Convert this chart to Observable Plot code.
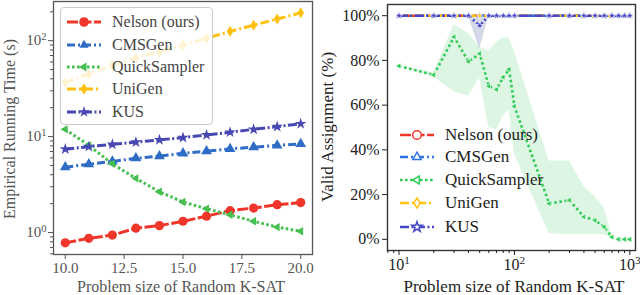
<!DOCTYPE html>
<html><head><meta charset="utf-8">
<script src="https://cdn.jsdelivr.net/npm/d3@7"></script>
<script src="https://cdn.jsdelivr.net/npm/@observablehq/plot@0.6"></script>
<style>
body{margin:0;background:#fff;}
#wrap{position:relative;width:640px;height:295px;overflow:hidden;background:#fff;}
.panel{position:absolute;top:0;}
.lbl{position:absolute;white-space:nowrap;font-family:"Liberation Serif",serif;}
.row{position:absolute;display:flex;align-items:center;height:22px;white-space:nowrap;font-family:"Liberation Serif",serif;}
.row svg{flex:none;}
</style></head><body><div id="wrap"></div>
<script>
// ---------- data ----------
const methodNames = ["Nelson (ours)", "CMSGen", "QuickSampler", "UniGen", "KUS"];

// left: running time (s) vs problem size
const sizesLeft = [10, 11, 12, 13, 14, 15, 16, 17, 18, 19, 20];
const timeNelson = [0.78, 0.87, 0.94, 1.11, 1.18, 1.31, 1.48, 1.69, 1.80, 1.95, 2.05];
const timeCMSGen = [4.8, 5.15, 5.5, 5.95, 6.25, 6.7, 7.05, 7.45, 7.75, 8.1, 8.4];
const timeQuickSampler = [11.9, 8.1, 5.2, 3.67, 2.66, 2.08, 1.77, 1.53, 1.31, 1.14, 1.03];
const timeUniGen = [36.7, 45, 55, 66, 77, 90, 106, 125, 145, 168, 195];
const timeKUS = [7.4, 7.85, 8.3, 8.75, 9.25, 9.75, 10.4, 11.1, 11.9, 12.7, 13.6];
const leftXTicks = [10, 12.5, 15, 17.5, 20];
const leftYTicks = [1, 10, 100];
const leftYMinor = [0.6, 0.7, 0.8, 0.9, 2, 3, 4, 5, 6, 7, 8, 9, 20, 30, 40, 50, 60, 70, 80, 90, 200];

// right: valid assignment (%) vs problem size
const sizesRight = [10, 20, 30, 40, 50, 60, 70, 80, 90, 100, 200, 300, 400, 500, 600, 700, 800, 900, 1000];
const validNelson = [100, 100, 100, 100, 100, 100, 100, 100, 100, 100, 100, 100, 100, 100, 100, 100, 100, 100, 100];
const validCMSGen = [100, 100, 100, 100, 100, 100, 100, 100, 100, 100, 100, 100, 100, 100, 100, 100, 100, 100, 100];
const validQuickSampler = [77.5, 73.5, 90.5, 79.5, 83, 68.5, 67, 72.5, 76, 59.5, 16, 17.5, 10, 8.5, 5.5, 1, 0, 0, 0];
const validQuickSamplerLow = [77.5, 72.5, 66, 64, 72, 50, 49, 55, 58, 38, 2.5, 2, 2, 2, 2, 0.5, 0, 0, 0];
const validQuickSamplerHigh = [77.5, 74.5, 96, 92, 86, 84, 88, 90, 90, 84, 35, 35, 23.5, 19, 14, 1.5, 0, 0, 0];
const validUniGen = [100, 100, 100, 100, 100, 100, 100, 100, 100, 100, 100, 100, 100, 100, 100, 100, 100, 100, 100];
const validKUS = [100, 100, 100, 100, 95.5, 100, 100, 100, 100, 100, 100, 100, 100, 100, 100, 100, 100, 100, 100];
const validKUSLow = [100, 100, 100, 100, 85, 100, 100, 100, 100, 100, 100, 100, 100, 100, 100, 100, 100, 100, 100];
const validKUSHigh = [100, 100, 100, 100, 100, 100, 100, 100, 100, 100, 100, 100, 100, 100, 100, 100, 100, 100, 100];
const rightXTicks = [10, 100, 1000];
const rightXMinor = [8, 9, 20, 30, 40, 50, 60, 70, 80, 90, 200, 300, 400, 500, 600, 700, 800, 900];
const rightYTicks = [0, 20, 40, 60, 80, 100];

// ---------- styles ----------
const triLeft = {draw(ctx, size) { const r = Math.sqrt(size / Math.PI) * 1.15;
  ctx.moveTo(-r, 0); ctx.lineTo(r * 0.5, -r * 0.866); ctx.lineTo(r * 0.5, r * 0.866); ctx.closePath(); }};
const thinDiamond = {draw(ctx, size) { const r = Math.sqrt(size / Math.PI) * 1.2;
  ctx.moveTo(0, -r); ctx.lineTo(r * 0.6, 0); ctx.lineTo(0, r); ctx.lineTo(-r * 0.6, 0); ctx.closePath(); }};
const styleOf = {
  "Nelson (ours)": {color: "#f0352a", dash: "11,2.5", symbol: "circle", legendSym: d3.symbolCircle, r: 4.6, lr: 4.8},
  "CMSGen": {color: "#2f6cc6", dash: "8,3,2,3", symbol: "triangle", legendSym: d3.symbolTriangle2 || d3.symbolTriangle, r: 4.0, lr: 4.4},
  "QuickSampler": {color: "#45bf50", dash: "2.6,2.4", symbol: triLeft, legendSym: triLeft, r: 4.2, lr: 4.4},
  "UniGen": {color: "#ffc010", dash: "9,3,2,3", symbol: thinDiamond, legendSym: thinDiamond, r: 4.6, lr: 4.8},
  "KUS": {color: "#4848b2", dash: "9,2.5,2,2.5", symbol: "star", legendSym: d3.symbolStar, r: 3.6, lr: 3.6}
};
const rightColor = {"Nelson (ours)": "#f0352a", "CMSGen": "#2f72e0", "QuickSampler": "#34cc58", "UniGen": "#ffc010", "KUS": "#4747c8"};

const leftSeries = [timeNelson, timeCMSGen, timeQuickSampler, timeUniGen, timeKUS];
const rightSeries = [validNelson, validCMSGen, validQuickSampler, validUniGen, validKUS];

function rows(xs, ys) { return xs.map((x, i) => ({x, y: ys[i]})); }
function supFmt(d) { return "10^" + Math.round(Math.log10(d)); }
function supify(svg) {
  d3.select(svg).selectAll("text").each(function () {
    const m = /^10\^(-?\d+)$/.exec(this.textContent);
    if (m) { const s = d3.select(this); s.text("10"); s.append("tspan").attr("dy", "-0.5em").attr("font-size", "0.7em").text(m[1]); }
  });
}

const wrap = document.getElementById("wrap");

// ---------- left panel ----------
const leftMarks = [];
methodNames.forEach((name, i) => {
  const st = styleOf[name];
  const data = rows(sizesLeft, leftSeries[i]);
  leftMarks.push(Plot.line(data, {x: "x", y: "y", stroke: st.color, strokeWidth: 3, strokeDasharray: st.dash, strokeLinecap: "butt"}));
  leftMarks.push(Plot.dot(data, {x: "x", y: "y", fill: st.color, r: st.r, symbol: st.symbol}));
});
const left = Plot.plot({
  width: 320, height: 295,
  marginLeft: 53, marginRight: 8, marginTop: 1, marginBottom: 41,
  style: {fontFamily: "'Liberation Serif', serif", fontSize: "15px", color: "#555", background: "transparent", overflow: "visible"},
  x: {domain: [9.5, 20.5]},
  y: {type: "log", domain: [0.59, 256]},
  marks: [
    ...leftMarks,
    Plot.frame({stroke: "#555", strokeWidth: 1.3}),
    Plot.axisX({ticks: leftXTicks, tickFormat: d => d.toFixed(1), tickSize: 5, tickPadding: 3, label: null}),
    Plot.axisY({ticks: leftYTicks, tickFormat: supFmt, tickSize: 5, tickPadding: 2, label: null}),
    Plot.axisY({ticks: leftYMinor, tickFormat: () => "", tickSize: 3, label: null})
  ]
});
supify(left);
left.classList.add("panel"); left.style.left = "0px";
wrap.appendChild(left);

// ---------- right panel ----------
const rightMarks = [
  Plot.areaY(sizesRight.map((x, i) => ({x, lo: validQuickSamplerLow[i], hi: validQuickSamplerHigh[i]})),
    {x: "x", y1: "lo", y2: "hi", fill: rightColor["QuickSampler"], fillOpacity: 0.17}),
  Plot.areaY(sizesRight.map((x, i) => ({x, lo: validKUSLow[i], hi: validKUSHigh[i]})),
    {x: "x", y1: "lo", y2: "hi", fill: "#6c7bb0", fillOpacity: 0.3})
];
methodNames.forEach((name, i) => {
  const st = styleOf[name];
  const data = rows(sizesRight, rightSeries[i]);
  rightMarks.push(Plot.line(data, {x: "x", y: "y", stroke: rightColor[name], strokeWidth: 2.6, strokeLinecap: "butt",
    strokeDasharray: name === "QuickSampler" ? "2.6,2.6" : st.dash}));
  rightMarks.push(Plot.dot(data, {x: "x", y: "y", fill: rightColor[name], stroke: "white", strokeWidth: 0.7,
    r: name === "QuickSampler" ? 3.1 : 2.5, symbol: st.symbol}));
});
const right = Plot.plot({
  width: 320, height: 295,
  marginLeft: 67, marginRight: 5, marginTop: 4, marginBottom: 45,
  style: {fontFamily: "'Liberation Serif', serif", fontSize: "16px", color: "#222", background: "transparent", overflow: "visible"},
  x: {type: "log", domain: [7.95, 1120]},
  y: {domain: [-5, 105]},
  marks: [
    ...rightMarks,
    Plot.frame({stroke: "#333", strokeWidth: 1.4}),
    Plot.axisX({ticks: rightXTicks, tickFormat: supFmt, tickSize: 5, tickPadding: 3, label: null}),
    Plot.axisX({ticks: rightXMinor, tickFormat: () => "", tickSize: 3, label: null}),
    Plot.axisY({ticks: rightYTicks, tickFormat: d => d + "%", tickSize: 5, tickPadding: 3, label: null})
  ]
});
supify(right);
right.classList.add("panel"); right.style.left = "320px";
wrap.appendChild(right);

// ---------- axis titles ----------
function label(text, x, y, size, color, rotate) {
  const d = document.createElement("div");
  d.className = "lbl"; d.textContent = text;
  d.style.fontSize = size + "px"; d.style.color = color;
  d.style.left = x + "px"; d.style.top = y + "px";
  d.style.transform = "translate(-50%,-50%)" + (rotate ? " rotate(-90deg)" : "");
  wrap.appendChild(d);
}
label("Problem size of Random K-SAT", 181, 287, 16, "#555", false);
label("Empirical Running Time (s)", 10, 129, 16, "#555", true);
label("Problem size of Random K-SAT", 514, 287, 17, "#222", false);
label("Valid Assignment (%)", 328, 127, 17, "#222", true);

// ---------- legends ----------
function handle(name, color, hollow, width) {
  const st = styleOf[name];
  const svg = d3.create("svg").attr("width", 36).attr("height", 16);
  svg.append("line").attr("x1", 1).attr("x2", 35).attr("y1", 8).attr("y2", 8)
    .attr("stroke", color).attr("stroke-width", width).attr("stroke-dasharray", st.dash);
  const k = hollow ? 0.8 : 1.0;
  const sym = d3.symbol().type(st.legendSym).size(Math.PI * st.lr * st.lr * k)();
  svg.append("path").attr("d", sym).attr("transform", "translate(18,8)")
    .attr("fill", hollow ? "white" : color).attr("stroke", hollow ? color : "none").attr("stroke-width", 1.5);
  return svg.node();
}
const leftBox = document.createElement("div");
Object.assign(leftBox.style, {position: "absolute", left: "60px", top: "7px", width: "153px", height: "118px",
  border: "1px solid #ccc", borderRadius: "4px", background: "rgba(255,255,255,0.8)", boxSizing: "border-box"});
wrap.appendChild(leftBox);
const leftCenters = [22, 45, 67, 89, 112];
methodNames.forEach((name, i) => {
  const r = document.createElement("div"); r.className = "row";
  r.style.left = "66px"; r.style.top = (leftCenters[i] - 11) + "px";
  r.style.fontSize = "16px"; r.style.color = "#444";
  r.appendChild(handle(name, styleOf[name].color, false, 3));
  const s = document.createElement("span"); s.textContent = name; s.style.marginLeft = "10px";
  r.appendChild(s); wrap.appendChild(r);
});
const rightCenters = [135, 157, 180, 203, 227];
methodNames.forEach((name, i) => {
  const r = document.createElement("div"); r.className = "row";
  r.style.left = "399px"; r.style.top = (rightCenters[i] - 11) + "px";
  r.style.fontSize = "17px"; r.style.color = "#222";
  r.appendChild(handle(name, rightColor[name], true, 2.6));
  const s = document.createElement("span"); s.textContent = name; s.style.marginLeft = "10px";
  r.appendChild(s); wrap.appendChild(r);
});
</script></body></html>
